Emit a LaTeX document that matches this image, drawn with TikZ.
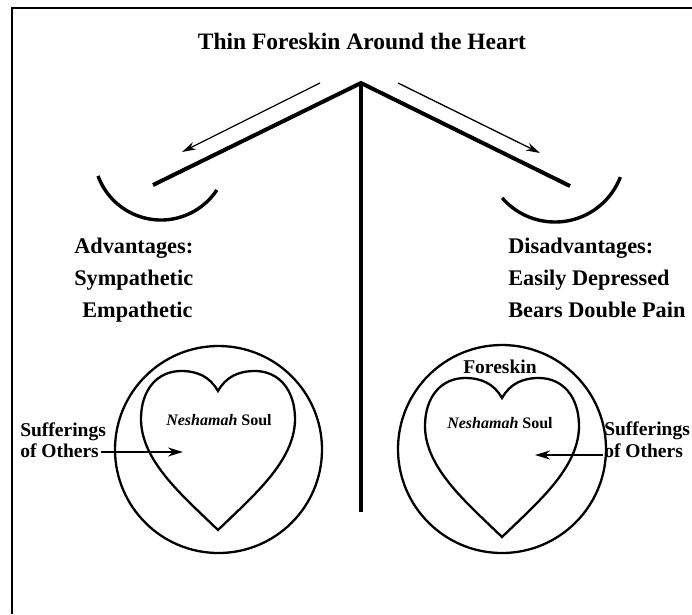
\documentclass[tikz,border=0pt]{standalone}
\usepackage{fontspec}
\setmainfont{Liberation Serif}
\usetikzlibrary{arrows, arrows.meta, positioning}

\tikzset{
  beam/.style   = {line width=4pt},
  pan/.style    = {line width=3.4pt},
  rim/.style    = {line width=2.3pt},
  pointer/.style= {line width=2pt, -{Stealth[length=15pt, width=9pt]}},
  caption/.style= {anchor=base west, inner sep=0pt, font=\bfseries\fontsize{22.3}{26}\selectfont},
  sideword/.style= {anchor=base west, inner sep=0pt, font=\bfseries\fontsize{19.5}{23}\selectfont},
}

\begin{document}
\begin{tikzpicture}[x=1pt, y=-1pt, > = {Stealth[length=14pt, width=8pt]}, semithick]
\useasboundingbox (0,0) rectangle (692,614);

% frame
\draw[line width=2.6pt] (12,614) |- (692,8);

\node[anchor=base, inner sep=0pt, font=\bfseries\fontsize{23.5}{27}\selectfont]
      (title) at (362,49) {Thin Foreskin Around the Heart};

% balance
\coordinate (apex)  at (361,83);
\coordinate (foot)  at (361,512);
\coordinate (lpan)  at (153,185);
\coordinate (rpan)  at (570,186);
\draw[beam] (apex) -- (foot);
\draw[beam, line join=miter] (lpan) -- (apex) -- (rpan);
\draw[pan] (161,153) ++(160:67) arc[start angle=160, end angle=33.5, radius=67];
\draw[pan] (555,152) ++(139:70) arc[start angle=139, end angle=21, radius=70];

\coordinate (ltail) at (320,83);
\coordinate (lhead) at (182,152);
\coordinate (rtail) at (398,83);
\coordinate (rhead) at (540,153);
\path (ltail) edge[->, line width=1.3pt] (lhead);
\path (rtail) edge[->, line width=1.3pt] (rhead);

% lists
\node[caption] (adv)  at (74,253)  {Advantages:};
\node[caption] (advA) at (74,285)  {Sympathetic};
\node[caption] (advB) at (82,317)  {Empathetic};
\node[caption] (dis)  at (508,253) {Disadvantages:};
\node[caption] (disA) at (508,285) {Easily Depressed};
\node[caption] (disB) at (508,317) {Bears Double Pain};

% hearts
\node[circle, draw, rim, minimum size=207pt, inner sep=0pt] (lring) at (218.5,449.5) {};
\node[circle, draw, rim, minimum size=208pt, inner sep=0pt] (rring) at (502,449) {};
\foreach \cx/\cy in {218/391, 502/398}
  \draw[rim, shift={(\cx,\cy)}]
    (0,0) .. controls (-8,-14) and (-20,-20) .. (-37,-20)
          .. controls (-60,-20) and (-77,-2) .. (-77,28)
          .. controls (-77,70) and (-35,105) .. (0,139)
          .. controls (35,105) and (77,70) .. (77,28)
          .. controls (77,-2) and (60,-20) .. (37,-20)
          .. controls (20,-20) and (8,-14) .. (0,0) -- cycle;

\node[anchor=base west, inner sep=0pt, font=\fontsize{16}{19}\selectfont]
      (lsoul) at (166,425) {\textbf{\textit{Neshamah}} \textbf{Soul}};
\node[anchor=base west, inner sep=0pt, font=\fontsize{16}{19}\selectfont]
      (rsoul) at (447,428) {\textbf{\textit{Neshamah}} \textbf{Soul}};
\node[sideword] (skin) at (463,373) {Foreskin};

\node[sideword] (lsuf)  at (20,436) {Sufferings};
\node[sideword] (loth)  at (20,457) {of Others};
\coordinate (lin) at (183,452);
\draw[pointer] (loth.east |- lin) ++(2,0) -- (lin);

\node[sideword] (rsuf)  at (604,435) {Sufferings};
\node[sideword] (roth)  at (604,457) {of Others};
\coordinate (rin) at (535,455);
\draw[pointer] (roth.west |- rin) ++(-1,0) -- (rin);
\end{tikzpicture}
\end{document}
